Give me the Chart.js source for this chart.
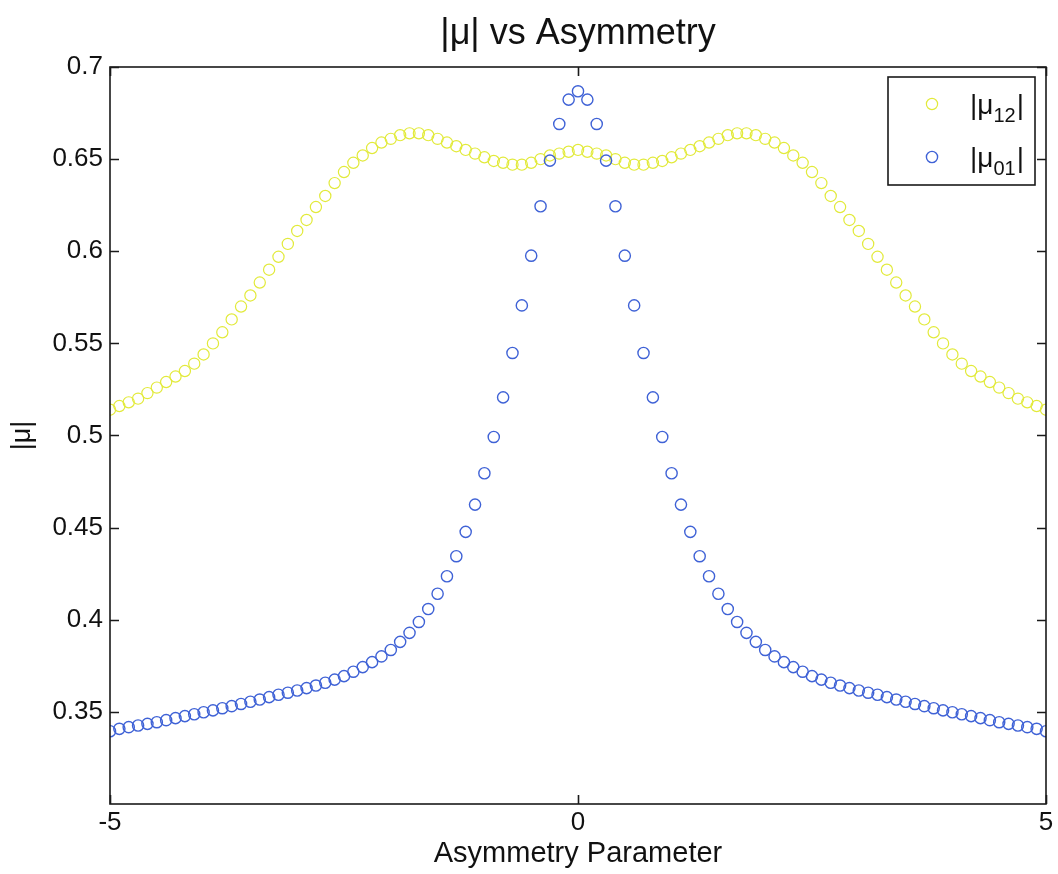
<!DOCTYPE html>
<html><head><meta charset="utf-8">
<script src="https://cdn.jsdelivr.net/npm/chart.js@4"></script>
<style>html,body{margin:0;padding:0;background:#fff}#wrap{width:1058px;height:874px}</style>
</head><body><div id="wrap"><canvas id="c" width="1058" height="874"></canvas></div>
<script>
// ---- data ----
const asymmetry = [-5.0,-4.9,-4.8,-4.7,-4.6,-4.5,-4.4,-4.3,-4.2,-4.1,-4.0,-3.9,-3.8,-3.7,-3.6,-3.5,-3.4,-3.3,-3.2,-3.1,
  -3.0,-2.9,-2.8,-2.7,-2.6,-2.5,-2.4,-2.3,-2.2,-2.1,-2.0,-1.9,-1.8,-1.7,-1.6,-1.5,-1.4,-1.3,-1.2,-1.1,
  -1.0,-0.9,-0.8,-0.7,-0.6,-0.5,-0.4,-0.3,-0.2,-0.1,0.0,0.1,0.2,0.3,0.4,0.5,0.6,0.7,0.8,0.9,
  1.0,1.1,1.2,1.3,1.4,1.5,1.6,1.7,1.8,1.9,2.0,2.1,2.2,2.3,2.4,2.5,2.6,2.7,2.8,2.9,
  3.0,3.1,3.2,3.3,3.4,3.5,3.6,3.7,3.8,3.9,4.0,4.1,4.2,4.3,4.4,4.5,4.6,4.7,4.8,4.9,5.0];
const mu12 = [0.514,0.516,0.518,0.520,0.523,0.526,0.529,0.532,0.535,0.539,
  0.544,0.550,0.556,0.563,0.570,0.576,0.583,0.590,0.597,0.604,
  0.611,0.617,0.624,0.630,0.637,0.643,0.648,0.652,0.656,0.659,
  0.661,0.663,0.664,0.664,0.663,0.661,0.659,0.657,0.655,0.653,
  0.651,0.649,0.648,0.647,0.647,0.648,0.650,0.652,0.653,0.654,
  0.655,
  0.654,0.653,0.652,0.650,0.648,0.647,0.647,0.648,0.649,0.651,
  0.653,0.655,0.657,0.659,0.661,0.663,0.664,0.664,0.663,0.661,
  0.659,0.656,0.652,0.648,0.643,0.637,0.630,0.624,0.617,0.611,
  0.604,0.597,0.590,0.583,0.576,0.570,0.563,0.556,0.550,0.544,
  0.539,0.535,0.532,0.529,0.526,0.523,0.520,0.518,0.516,0.514];
const mu01 = [0.3395,0.3408,0.3417,0.3426,0.3435,0.3444,0.3455,0.3466,0.3477,0.3487,
  0.3498,0.3508,0.3520,0.3531,0.3543,0.3555,0.3567,0.3580,0.3593,0.3604,
  0.3616,0.3629,0.3643,0.3658,0.3675,0.3694,0.3718,0.3743,0.3770,0.3801,
  0.3836,0.3880,0.3929,0.3988,0.4058,0.4141,0.4236,0.4345,0.4477,0.4625,
  0.4795,0.4992,0.5207,0.5448,0.5706,0.5976,0.6244,0.6492,0.6691,0.6823,
  0.6868,
  0.6823,0.6691,0.6492,0.6244,0.5976,0.5706,0.5448,0.5207,0.4992,0.4795,
  0.4625,0.4477,0.4345,0.4236,0.4141,0.4058,0.3988,0.3929,0.3880,0.3836,
  0.3801,0.3770,0.3743,0.3718,0.3694,0.3675,0.3658,0.3643,0.3629,0.3616,
  0.3604,0.3593,0.3580,0.3567,0.3555,0.3543,0.3531,0.3520,0.3508,0.3498,
  0.3487,0.3477,0.3466,0.3455,0.3444,0.3435,0.3426,0.3417,0.3408,0.3395];
const xTickValues = [-5, 0, 5];
const yTickValues = [0.35, 0.4, 0.45, 0.5, 0.55, 0.6, 0.65, 0.7];
const seriesLabels = [{main:'|\u03bc', sub:'12', end:'|'}, {main:'|\u03bc', sub:'01', end:'|'}];
const titleText = '|\u03bc| vs Asymmetry';
const xTitle = 'Asymmetry Parameter';
const yTitle = '|\u03bc|';

// ---- styles ----
const FONT = "'Liberation Sans', Arial, Helvetica, sans-serif";
const YELLOW = '#e2ea3a';
const BLUE = '#3f62d6';
const AXIS = '#1a1a1a';

const pts = (ys) => asymmetry.map((x, i) => ({x, y: ys[i]}));

const frameTicks = {
  id: 'frameTicks',
  afterDatasetsDraw(chart) {
    const {ctx, chartArea: a, scales: {x, y}} = chart;
    ctx.save();
    ctx.strokeStyle = AXIS;
    ctx.lineWidth = 1.6;
    ctx.strokeRect(a.left, a.top, a.right - a.left, a.bottom - a.top);
    const L = 9;
    ctx.beginPath();
    yTickValues.forEach(v => {
      const py = Math.round(y.getPixelForValue(v)) + 0.5;
      ctx.moveTo(a.left, py); ctx.lineTo(a.left + L, py);
      ctx.moveTo(a.right, py); ctx.lineTo(a.right - L, py);
    });
    xTickValues.forEach(v => {
      const px = Math.round(x.getPixelForValue(v)) + 0.5;
      ctx.moveTo(px, a.bottom); ctx.lineTo(px, a.bottom - L);
      ctx.moveTo(px, a.top); ctx.lineTo(px, a.top + L);
    });
    ctx.stroke();
    ctx.restore();
  }
};

const customLegend = {
  id: 'customLegend',
  afterDraw(chart) {
    const {ctx, chartArea: a} = chart;
    const w = 147, h = 108;
    const bx = a.right - 11 - w, by = a.top + 10;
    ctx.save();
    ctx.fillStyle = '#fff';
    ctx.fillRect(bx, by, w, h);
    ctx.strokeStyle = AXIS;
    ctx.lineWidth = 1.6;
    ctx.strokeRect(bx, by, w, h);
    const colors = [YELLOW, BLUE];
    const widths = [1.2, 1.4];
    seriesLabels.forEach((lab, i) => {
      const cy = by + 27 + i * 53;
      ctx.beginPath();
      ctx.strokeStyle = colors[i];
      ctx.lineWidth = widths[i];
      ctx.arc(bx + 44, cy, 5.6, 0, Math.PI * 2);
      ctx.stroke();
      ctx.fillStyle = '#111';
      ctx.textBaseline = 'alphabetic';
      ctx.textAlign = 'left';
      let tx = bx + 82;
      const base = cy + 10;
      ctx.font = '28px ' + FONT;
      ctx.fillText(lab.main, tx, base);
      tx += ctx.measureText(lab.main).width;
      ctx.font = '20px ' + FONT;
      ctx.fillText(lab.sub, tx, base + 8);
      tx += ctx.measureText(lab.sub).width + 1;
      ctx.font = '28px ' + FONT;
      ctx.fillText(lab.end, tx, base);
    });
    ctx.restore();
  }
};

new Chart(document.getElementById('c'), {
  type: 'scatter',
  data: {
    datasets: [
      {label: '|\u03bc12|', data: pts(mu12), borderColor: YELLOW, backgroundColor: 'rgba(0,0,0,0)',
       borderWidth: 1.2, pointRadius: 5.6, pointHoverRadius: 5.6, pointStyle: 'circle', order: 2},
      {label: '|\u03bc01|', data: pts(mu01), borderColor: BLUE, backgroundColor: 'rgba(0,0,0,0)',
       borderWidth: 1.4, pointRadius: 5.6, pointHoverRadius: 5.6, pointStyle: 'circle', order: 1}
    ]
  },
  options: {
    responsive: false,
    animation: false,
    devicePixelRatio: 1,
    layout: {padding: {left: 0, right: 12, top: 0, bottom: 0}},
    plugins: {
      legend: {display: false},
      tooltip: {enabled: false},
      title: {display: true, fullSize: false, text: titleText, color: '#111',
        font: {family: FONT, size: 36, weight: 'normal', lineHeight: 1.2},
        padding: {top: 12, bottom: 11.8}}
    },
    scales: {
      x: {
        type: 'linear', min: -5, max: 5,
        grid: {display: false, drawTicks: false},
        border: {display: false},
        afterBuildTicks: s => { s.ticks = xTickValues.map(v => ({value: v})); },
        afterFit: s => { s.height = 70; s.paddingLeft = 0; s.paddingRight = 0; },
        ticks: {color: '#111', padding: 3, font: {family: FONT, size: 26, lineHeight: 1.2},
          maxRotation: 0, autoSkip: false, callback: v => String(v)},
        title: {display: true, text: xTitle, color: '#111',
          font: {family: FONT, size: 29, lineHeight: 1.2}, padding: {top: 0, bottom: 3}}
      },
      y: {
        type: 'linear', min: 0.3, max: 0.7,
        grid: {display: false, drawTicks: false},
        border: {display: false},
        afterBuildTicks: s => { s.ticks = yTickValues.map(v => ({value: v})); },
        afterFit: s => { s.width = 110; s.paddingTop = 0; s.paddingBottom = 0; },
        ticks: {color: '#111', padding: 7, font: {family: FONT, size: 26, lineHeight: 1.2},
          autoSkip: false, callback: v => String(+v.toFixed(2))},
        title: {display: true, text: yTitle, color: '#111',
          font: {family: FONT, size: 27, lineHeight: 1.2}, padding: {top: 6, bottom: 0}}
      }
    }
  },
  plugins: [frameTicks, customLegend]
});
</script>
</body></html>
